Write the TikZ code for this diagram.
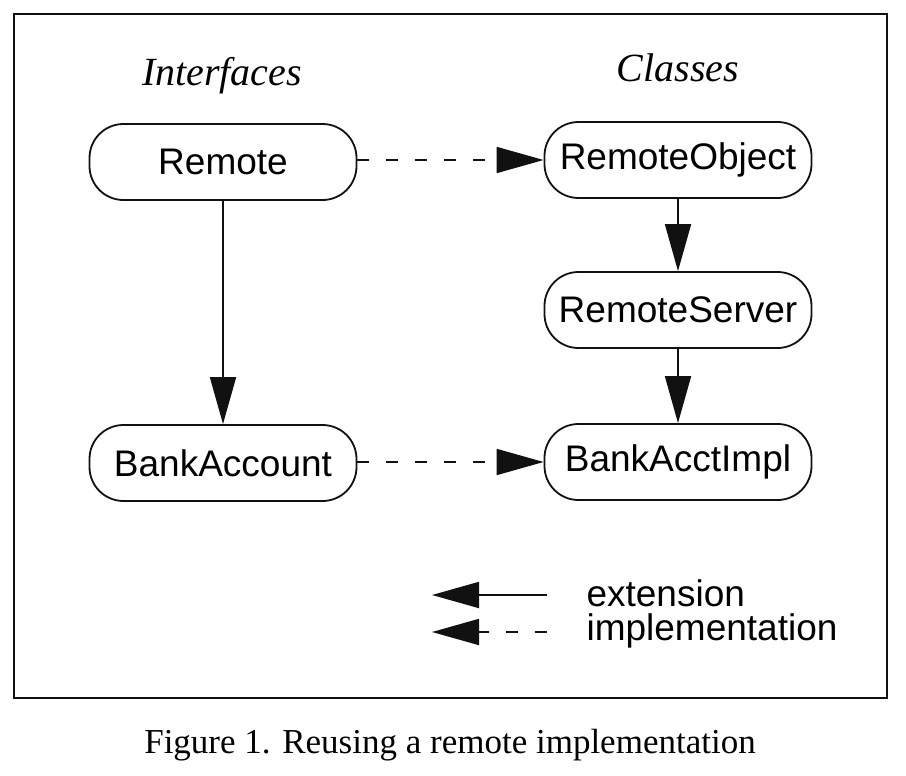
\documentclass[tikz,border=0pt]{standalone}
\usepackage{fontspec}
\setmainfont{Liberation Serif}
\setsansfont{Liberation Sans}
\usetikzlibrary{arrows.meta,positioning}
\definecolor{inkblack}{HTML}{111111}
\tikzset{
  classnode/.style={draw=inkblack, line width=1.8pt, rounded corners=34pt, minimum width=267pt, minimum height=76pt, inner sep=0pt, font=\sffamily\fontsize{37}{44}\selectfont},
  extarrow/.style={inkblack, line width=1.8pt, -{Triangle[length=47pt,width=26pt]}},
  implarrow/.style={extarrow, dash pattern=on 12pt off 17pt},
  heading/.style={anchor=base, font=\itshape\fontsize{40}{48}\selectfont},
  legendtext/.style={anchor=base west, font=\sffamily\fontsize{37}{44}\selectfont}
}
\begin{document}
\begin{tikzpicture}[x=1pt,y=-1pt]
  \useasboundingbox (0,0) rectangle (906,776);
  \draw[inkblack, line width=2.2pt] (14,14) rectangle (887,698);
  % column headings
  \node[heading] (ifhead) at (222,85) {Interfaces};
  \node[heading] (clhead) at (678,82) {Classes};
  % interfaces
  \node[classnode] (remote) at (223,162) {Remote};
  \node[classnode] (bankacct) at (223,463) {BankAccount};
  % classes
  \node[classnode] (remobj) at (678,160) {RemoteObject};
  \node[classnode] (remserv) at (678,310) {RemoteServer};
  \node[classnode] (bankimpl) at (678,462) {BankAcctImpl};
  \draw[extarrow] (remote) -- (bankacct);
  \draw[extarrow] (remobj) -- (remserv);
  \draw[extarrow] (remserv) -- (bankimpl);
  \draw[implarrow] (remote.east |- remobj) -- (remobj);
  \draw[implarrow] (bankacct.east |- bankimpl) -- (bankimpl);
  % legend
  \coordinate (extfrom) at (547,595);
  \coordinate (extto) at (432,595);
  \coordinate (implfrom) at (547,632);
  \coordinate (implto) at (432,632);
  \draw[extarrow] (extfrom) -- (extto);
  \draw[implarrow] (implfrom) -- (implto);
  \node[legendtext] (extlbl) at (583,606) {extension};
  \node[legendtext] (impllbl) at (583,640) {implementation};
  % caption
  \node[anchor=base, font=\fontsize{35}{42}\selectfont] (caption) at (450,753) {Figure 1. Reusing a remote implementation};
\end{tikzpicture}
\end{document}
